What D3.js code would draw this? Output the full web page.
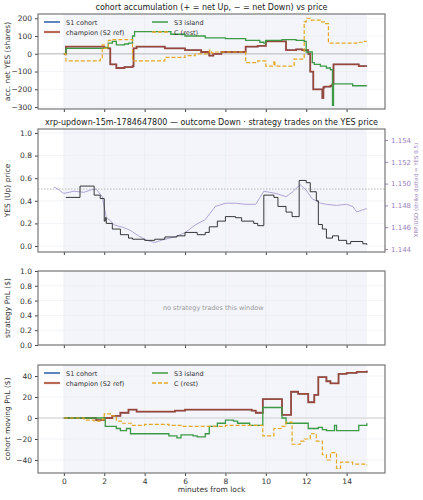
<!DOCTYPE html>
<html><head><meta charset="utf-8">
<script src="https://cdn.jsdelivr.net/npm/d3@7"></script>
<style>body{margin:0;background:#fff}text{font-family:"DejaVu Sans",sans-serif}</style>
</head><body><svg id="c" width="423" height="500"></svg>
<script>
// ---- data ----
const accChampT=[0,0.1,2.0,2.2,2.3,2.6,3.0,3.4,3.45,3.6,5.0,6.0,6.8,7.2,7.4,7.8,9.0,9.6,10.0,11.0,11.5,11.8,12.1,12.2,12.35,12.8,12.85,12.9,13.2,13.3,13.35,14.6,15.0];
const accChampV=[0,40,35,30,-60,-80,-75,-70,30,40,30,20,10,-10,0,10,40,45,70,20,25,20,0,-100,-200,-250,-190,-185,-180,-170,-60,-70,-70];
const accS3T=[0,0.1,2.0,2.2,2.4,2.6,3.0,3.2,3.4,3.5,5.3,6.0,7.0,8.0,9.0,9.7,9.9,10.0,10.8,11.5,11.9,12.0,12.3,12.4,12.7,13.0,13.2,13.3,13.35,14.3,15.0];
const accS3V=[0,30,35,60,70,50,55,60,100,125,110,100,90,85,75,65,60,75,80,75,70,10,-50,-60,-70,-80,-90,-290,-170,-180,-180];
const accCT=[0,0.1,1.8,1.9,2.0,2.2,2.4,3.4,5.0,6.0,6.5,7.2,7.3,7.4,9.0,9.6,10.0,10.4,10.45,11.4,11.5,11.9,12.0,12.2,12.7,12.9,13.1,13.4,14.5,14.8,15.0];
const accCV=[0,-40,-30,50,30,75,80,-40,-20,-10,0,20,5,10,-50,-40,-70,-40,-70,-30,-30,180,200,190,180,170,60,60,65,70,70];

const yesT=[0.1,0.8,1.5,1.8,2.0,2.05,2.1,2.4,2.8,3.2,3.4,4.0,4.5,5.0,5.6,6.0,6.6,7.0,7.2,7.6,8.0,8.5,8.8,9.4,9.6,9.9,10.4,10.6,11.0,11.3,11.65,12.0,12.2,12.5,12.6,12.8,13.0,13.3,13.6,14.0,14.2,14.8,15.0];
const yesV=[0.43,0.53,0.45,0.42,0.22,0.25,0.2,0.15,0.1,0.07,0.06,0.05,0.06,0.08,0.09,0.12,0.1,0.12,0.17,0.22,0.26,0.25,0.22,0.2,0.18,0.45,0.43,0.35,0.3,0.26,0.58,0.56,0.48,0.4,0.19,0.15,0.07,0.09,0.05,0.02,0.04,0.02,0.01];
const xrpT=[-0.5,-0.3,0,0.5,1.0,1.3,1.6,1.9,2.1,2.3,2.5,2.9,3.3,3.7,4.1,4.5,5.0,5.5,6.0,6.5,7.0,7.5,8.0,8.5,9.0,9.5,9.9,10.2,10.5,11.0,11.3,11.7,12.0,12.3,12.7,13.0,13.5,14.0,14.3,14.5,14.8,15.0];
const xrpV=[1.1497,1.1495,1.1491,1.1493,1.1492,1.1494,1.1495,1.1488,1.1469,1.1466,1.1462,1.1460,1.1457,1.1452,1.1448,1.1446,1.1449,1.1451,1.1455,1.1462,1.1467,1.1479,1.1482,1.1482,1.1481,1.1481,1.1493,1.1492,1.1491,1.1488,1.1492,1.1499,1.1494,1.1486,1.1482,1.1481,1.1480,1.1481,1.1479,1.1474,1.1476,1.1477];

const pnlChampT=[0,1.6,2.0,2.4,2.8,3.2,3.6,5.5,6.0,9.3,9.5,9.85,10.8,11.25,11.6,12.1,12.4,12.6,13.0,13.2,13.6,14.0,14.5,15.0];
const pnlChampV=[0,-2,0,2,5,8,6,7,8,7,5,18,3,25,23,15,22,39,35,33,42,43,44,45];
const pnlS3T=[0,2.05,2.6,2.8,3.1,3.3,5.0,5.2,5.6,5.8,6.4,6.6,7.0,7.2,7.6,8.0,8.4,8.6,9.2,9.85,10.8,11.0,12.1,12.6,12.8,13.0,13.4,13.5,14.6,15.0];
const pnlS3V=[0,-8,-10,-12,-10,-15,-15,-17,-19,-16,-17,-18,-15,-8,-5,-2,-3,-5,-7,10,0,-5,-10,-9,-11,-12,-7,-12,-7,-5];
const pnlCT=[0,1.0,1.5,1.9,2.0,2.3,2.6,2.9,3.4,4.0,5.2,5.8,8.0,9.85,10.4,10.8,11.0,11.3,11.7,11.9,12.2,12.5,12.8,13.0,13.2,13.5,13.7,14.3,15.0];
const pnlCV=[0,-2,-3,-1,4,2,-3,-5,-7,-6,-7,-8,-7,-17,-10,-8,-4,-25,-22,-20,-15,-22,-35,-40,-33,-48,-42,-44,-45];

const xTicks=[0,2,4,6,8,10,12,14];
const legendNames=["S1 cohort","champion (S2 ref)","S3 island","C (rest)"];

// ---- drawing ----
const svg=d3.select("#c");
const L=38,R=385;
const x=d3.scaleLinear().domain([-1.28,15.9]).range([L,R]);
const col={s1:"#2a5caa",ch:"#a8432a",s3:"#3c9a46",c:"#e5a823"};
const zip=(t,v)=>t.map((d,i)=>[d,v[i]]);

function panel(top,bot,dom,ticks,fmt,label,showX){
  const y=d3.scaleLinear().domain(dom).range([bot,top]);
  const g=svg.append("g");
  g.append("rect").attr("x",x(0)).attr("y",top).attr("width",x(15)-x(0)).attr("height",bot-top).attr("fill","#f3f5fa");
  g.selectAll(".gx").data(xTicks).join("line").attr("x1",d=>x(d)).attr("x2",d=>x(d)).attr("y1",top).attr("y2",bot).attr("stroke","#e6e8ee").attr("stroke-width",0.5);
  g.selectAll(".gy").data(ticks).join("line").attr("x1",L).attr("x2",R).attr("y1",d=>y(d)).attr("y2",d=>y(d)).attr("stroke","#e6e8ee").attr("stroke-width",0.5);
  const ya=g.append("g").attr("transform",`translate(${L},0)`).call(d3.axisLeft(y).tickValues(ticks).tickFormat(fmt).tickSize(3));
  const xa=g.append("g").attr("transform",`translate(0,${bot})`).call(d3.axisBottom(x).tickValues(xTicks).tickSize(3).tickFormat(showX?d3.format("d"):""));
  [ya,xa].forEach(a=>{a.select(".domain").remove();a.selectAll("text").attr("font-size",7.5).attr("fill","#333");a.selectAll("line").attr("stroke","#444");});
  g.append("text").attr("transform",`translate(10,${(top+bot)/2}) rotate(-90)`).attr("text-anchor","middle").attr("font-size",7.5).attr("fill","#333").text(label);
  return {y,g,top,bot};
}
function frame(p){p.g.append("rect").attr("x",L).attr("y",p.top).attr("width",R-L).attr("height",p.bot-p.top).attr("fill","none").attr("stroke","#777").attr("stroke-width",1.2);}
function line(p,data,c,w,dash,op){
  const ln=d3.line().x(d=>x(d[0])).y(d=>p.y(d[1])).curve(d3.curveStepAfter);
  p.g.append("path").attr("d",ln(data)).attr("fill","none").attr("stroke",c).attr("stroke-width",w).attr("stroke-dasharray",dash||null).attr("opacity",op||1);
}
function legend(p){
  const items=[[col.s1,1.5,null,0,0],[col.ch,2.2,null,0,1],[col.s3,1.5,null,1,0],[col.c,1.3,"4,2",1,1]];
  items.forEach((it,i)=>{
    const lx=L+6+it[3]*108, ly=p.top+8+it[4]*10;
    p.g.append("line").attr("x1",lx).attr("x2",lx+16).attr("y1",ly).attr("y2",ly).attr("stroke",it[0]).attr("stroke-width",it[1]).attr("stroke-dasharray",it[2]).attr("opacity",i==1?0.8:1);
    p.g.append("text").attr("x",lx+22).attr("y",ly+2.5).attr("font-size",6.5).attr("fill","#333").text(legendNames[i]);
  });
}
function title(t,yy){svg.append("text").attr("x",(L+R)/2).attr("y",yy).attr("text-anchor","middle").attr("font-size",8).attr("fill","#222").text(t);}

// panel 1
title("cohort accumulation (+ = net Up, − = net Down) vs price",10);
const p1=panel(14,109,[-311,224],[-300,-200,-100,0,100,200],d3.format("d"),"acc. net YES (shares)",false);
p1.g.append("line").attr("x1",L).attr("x2",R).attr("y1",p1.y(0)).attr("y2",p1.y(0)).attr("stroke","#ccc").attr("stroke-width",1.5);
line(p1,zip(accChampT,accChampV),col.s1,1.3);
line(p1,zip(accChampT,accChampV),col.ch,1.8,null,0.85);
line(p1,zip(accS3T,accS3V),col.s3,1.3);
line(p1,zip(accCT,accCV),col.c,1.2,"4,2");
frame(p1);legend(p1);

// panel 2
title("xrp-updown-15m-1784647800 — outcome Down · strategy trades on the YES price",125);
const p2=panel(129,252,[-0.053,1.035],[0,0.2,0.4,0.6,0.8,1.0],d3.format(".1f"),"YES (Up) price",false);
const y2r=d3.scaleLinear().domain([1.144,1.154]).range([249,140]);
p2.g.append("line").attr("x1",L).attr("x2",R).attr("y1",y2r(1.1495)).attr("y2",y2r(1.1495)).attr("stroke","#bbb").attr("stroke-dasharray","1.5,1.5");
p2.g.append("path").attr("d",d3.line().x(d=>x(d[0])).y(d=>y2r(d[1]))(zip(xrpT,xrpV))).attr("fill","none").attr("stroke","#a99ad0").attr("stroke-width",0.9);
line(p2,zip(yesT,yesV),"#222",0.9);
const ra=p2.g.append("g").attr("transform",`translate(${R},0)`).call(d3.axisRight(y2r).tickValues([1.144,1.146,1.148,1.150,1.152,1.154]).tickFormat(d3.format(".3f")).tickSize(3));
ra.select(".domain").remove();ra.selectAll("text").attr("font-size",7).attr("fill","#9b7fc0");ra.selectAll("line").attr("stroke","#9b7fc0");
p2.g.append("text").attr("transform",`translate(418,190) rotate(-90)`).attr("text-anchor","middle").attr("font-size",5.5).attr("fill","#9b7fc0").text("XRP/USD (strike dotted = YES 0.5)");
frame(p2);

// panel 3
const p3=panel(271,345,[0,1],[0,0.2,0.4,0.6,0.8,1.0],d3.format(".1f"),"strategy PnL ($)",false);
p3.g.append("text").attr("x",x(7.4)).attr("y",310).attr("text-anchor","middle").attr("font-size",6.5).attr("fill","#999").text("no strategy trades this window");
frame(p3);

// panel 4
const p4=panel(365,473,[-52.4,50.5],[-40,-20,0,20,40],d3.format("d"),"cohort moving PnL ($)",true);
p4.g.append("line").attr("x1",L).attr("x2",R).attr("y1",p4.y(0)).attr("y2",p4.y(0)).attr("stroke","#ddd").attr("stroke-width",1.5);
line(p4,zip(pnlChampT,pnlChampV),col.s1,1.3);
line(p4,zip(pnlChampT,pnlChampV),col.ch,1.8,null,0.85);
line(p4,zip(pnlS3T,pnlS3V),col.s3,1.3);
line(p4,zip(pnlCT,pnlCV),col.c,1.2,"4,2");
frame(p4);legend(p4);
svg.append("text").attr("x",(L+R)/2).attr("y",492).attr("text-anchor","middle").attr("font-size",7.5).attr("fill","#333").text("minutes from lock");
</script></body></html>
